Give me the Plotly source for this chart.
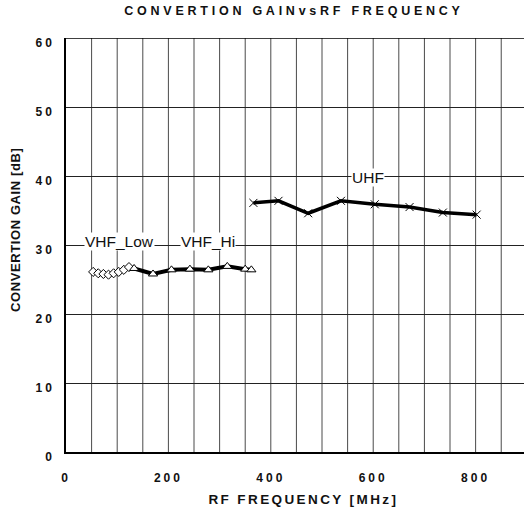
import plotly.graph_objects as go

# Data
vhf_low_f = [53, 63, 73, 83, 93, 103, 113, 123]
vhf_low_g = [26.1, 25.9, 25.8, 25.7, 25.9, 26.1, 26.4, 26.8]

vhf_hi_f = [133, 170, 206, 242, 278, 315, 350, 362]
vhf_hi_g = [26.6, 25.8, 26.4, 26.5, 26.4, 26.9, 26.5, 26.4]

uhf_f = [366, 415, 473, 537, 603, 671, 736, 802]
uhf_g = [36.1, 36.4, 34.6, 36.4, 35.9, 35.5, 34.7, 34.4]

x_ticks = [0, 200, 400, 600, 800]
y_ticks = [0, 10, 20, 30, 40, 50, 60]

labels = ["VHF_Low", "VHF_Hi", "UHF"]
label_x = [105, 277, 589]
label_y = [30, 30, 40]

title = "CONVERTION GAINvsRF FREQUENCY"
x_title = "RF FREQUENCY [MHz]"
y_title = "CONVERTION GAIN [dB]"

FONT = "Liberation Sans, Arial, sans-serif"
INK = "#111"

fig = go.Figure()

fig.add_trace(go.Scatter(
    x=vhf_low_f, y=vhf_low_g, mode="markers",
    marker=dict(symbol="diamond", size=7, color="white",
                line=dict(color="black", width=1)),
    showlegend=False))

fig.add_trace(go.Scatter(
    x=vhf_hi_f, y=vhf_hi_g, mode="lines+markers",
    line=dict(color="black", width=4),
    marker=dict(symbol="triangle-up", size=8, color="white",
                line=dict(color="black", width=1)),
    showlegend=False))

fig.add_trace(go.Scatter(
    x=uhf_f, y=uhf_g, mode="lines+markers",
    line=dict(color="black", width=3.5),
    marker=dict(symbol="x-thin", size=8, color="black",
                line=dict(color="black", width=1)),
    showlegend=False))

shifts = [4, 4, -1]
for t, xx, yy, s in zip(labels, label_x, label_y, shifts):
    fig.add_annotation(x=xx, y=yy, text=t, showarrow=False, yshift=s,
                       font=dict(family=FONT, size=15.5, color=INK),
                       bgcolor="white", borderpad=0)

# axis titles
fig.add_annotation(xref="paper", yref="paper", x=(303 - 66) / 458, y=(452 - 499) / 414,
                   text=x_title, showarrow=False, xanchor="center", yanchor="middle",
                   font=dict(family=FONT, size=13.5, color=INK, weight="bold"))
fig.add_annotation(xref="paper", yref="paper", x=(16 - 66) / 458, y=(452 - 230) / 414,
                   text=y_title, showarrow=False, xanchor="center", yanchor="middle",
                   textangle=-90,
                   font=dict(family=FONT, size=13, color=INK, weight="bold"))

fig.update_layout(
    width=524, height=513,
    margin=dict(l=66, r=0, t=38, b=61),
    paper_bgcolor="white", plot_bgcolor="white",
    title=dict(text=title, x=294 / 524, xanchor="center", xref="container",
               y=1 - 11 / 513, yanchor="middle", yref="container",
               font=dict(family=FONT, size=12.5, color=INK, weight="bold")),
)

fig.update_xaxes(
    range=[0, 894.5], tickmode="array",
    tickvals=x_ticks, ticktext=[str(v) for v in x_ticks],
    showgrid=False, zeroline=False,
    showline=True, linecolor="black", linewidth=1.5, mirror=False,
    ticks="", ticklabelstandoff=14,
    tickfont=dict(family=FONT, size=12, color=INK, weight="bold"),
)

fig.update_yaxes(
    range=[0, 60], tickmode="array", tickvals=y_ticks, ticktext=[str(v) for v in y_ticks],
    showgrid=True, gridcolor="#222", gridwidth=1, zeroline=False,
    showline=True, linecolor="black", linewidth=1.5,
    ticks="", ticklabelstandoff=7,
    tickfont=dict(family=FONT, size=12, color=INK, weight="bold"),
)

# vertical grid every 50 MHz and top border
for f in range(50, 900, 50):
    fig.add_vline(x=f, line=dict(color="#4a4a4a", width=1), layer="below")
fig.add_hline(y=60, line=dict(color="black", width=1.5), layer="below")

post = """
document.body.style.margin = '0';
var gd = document.getElementById('{plot_id}');
function ls(sel, v) { gd.querySelectorAll(sel).forEach(function (e) { e.style.letterSpacing = v; }); }
ls('.gtitle', '3.75px');
ls('.xtick text', '3px');
ls('.ytick text', '3px');
gd.querySelectorAll('.ytick text').forEach(function (e) {
  var y = parseFloat(e.getAttribute('y') || '0');
  e.setAttribute('y', y + 5);
});
var ann = gd.querySelectorAll('.annotation-text');
if (ann.length >= 5) { ann[3].style.letterSpacing = '2.4px'; ann[4].style.letterSpacing = '0.6px'; }
"""

fig.write_html("out.html", post_script=post, config={"displayModeBar": False})
